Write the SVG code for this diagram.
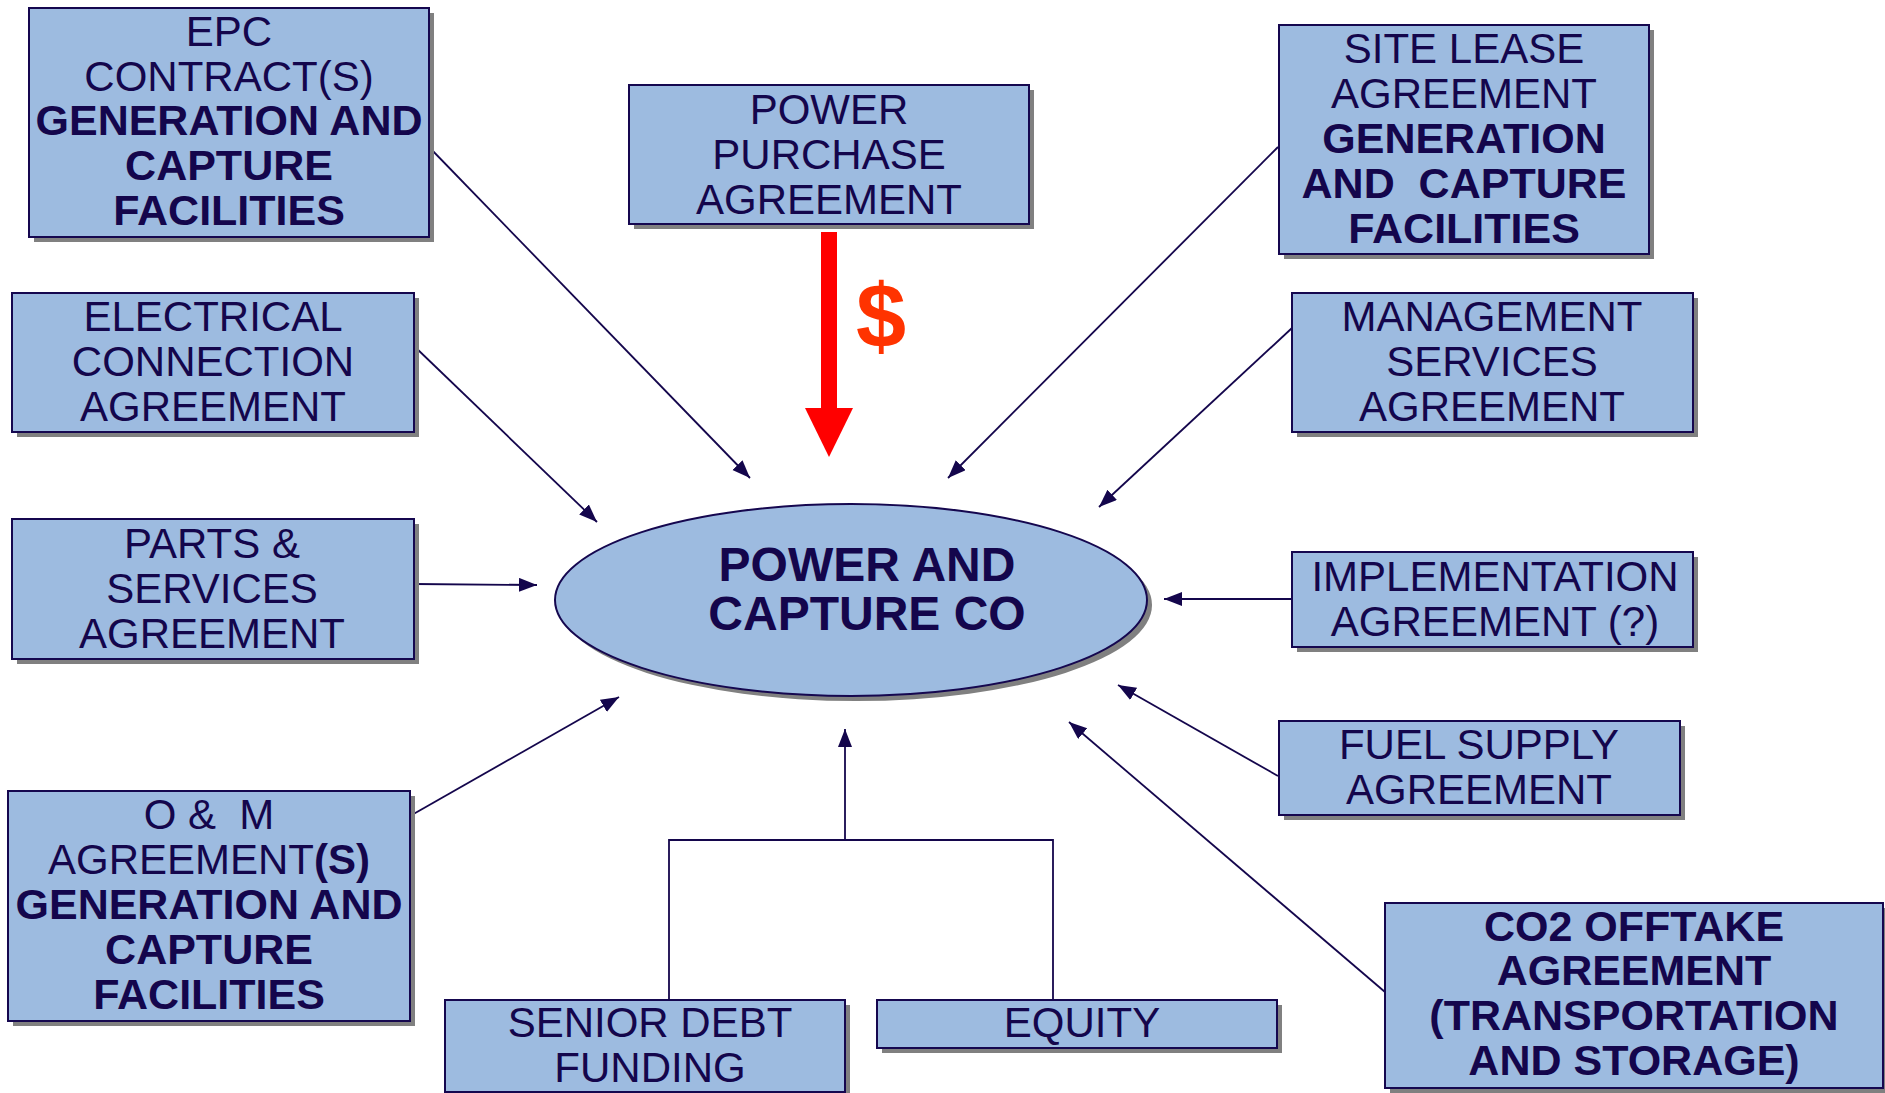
<svg xmlns="http://www.w3.org/2000/svg" width="1885" height="1093" viewBox="0 0 1885 1093">
<style>
.box{fill:#9DBBE0;stroke:#15074F;stroke-width:2}
.sh{fill:#808080}
.t{font-family:"Liberation Sans",Arial,sans-serif;font-size:42px;fill:#14064C;text-anchor:middle}
.b{font-weight:bold;font-size:43px}
.conn{stroke:#14064C;stroke-width:1.8;fill:none}
</style>
<defs>
<marker id="ah" markerUnits="userSpaceOnUse" markerWidth="19" markerHeight="15" refX="18" refY="7" orient="auto">
<path d="M0,0 L18,7 L0,14 Z" fill="#14064C"/>
</marker>
</defs>
<rect width="1885" height="1093" fill="#FFFFFF"/>

<g id="connectors">
<line class="conn" x1="429" y1="147" x2="750" y2="478" marker-end="url(#ah)"/>
<line class="conn" x1="414" y1="346" x2="597" y2="522" marker-end="url(#ah)"/>
<line class="conn" x1="414" y1="584" x2="537" y2="585" marker-end="url(#ah)"/>
<line class="conn" x1="410" y1="816" x2="619" y2="697" marker-end="url(#ah)"/>
<path class="conn" d="M669,1000 V840 H1053 V1000"/>
<line class="conn" x1="845" y1="840" x2="845" y2="729" marker-end="url(#ah)"/>
<line class="conn" x1="1385" y1="992" x2="1069" y2="722" marker-end="url(#ah)"/>
<line class="conn" x1="1278" y1="776" x2="1118" y2="685" marker-end="url(#ah)"/>
<line class="conn" x1="1292" y1="599" x2="1164" y2="599" marker-end="url(#ah)"/>
<line class="conn" x1="1292" y1="328" x2="1099" y2="507" marker-end="url(#ah)"/>
<line class="conn" x1="1278" y1="147" x2="948" y2="478" marker-end="url(#ah)"/>
<g id="ppa-flow">
<rect x="821" y="232" width="16" height="177" fill="#FF0000"/>
<polygon points="805,408 853,408 829,457" fill="#FF0000"/>
<text x="881" y="347" font-family="Liberation Sans, Arial, sans-serif" font-size="90" font-weight="bold" fill="#FF3300" text-anchor="middle">$</text>
</g>
</g>

<g id="epc">
<rect class="sh" x="34" y="13" width="400" height="229"/>
<rect class="box" x="29" y="8" width="400" height="229"/>
<text class="t" x="229" y="46">EPC</text>
<text class="t" x="229" y="91">CONTRACT(S)</text>
<text class="t b" x="229" y="135">GENERATION AND</text>
<text class="t b" x="229" y="180">CAPTURE</text>
<text class="t b" x="229" y="225">FACILITIES</text>
</g>

<g id="ppa">
<rect class="sh" x="634" y="90" width="400" height="139"/>
<rect class="box" x="629" y="85" width="400" height="139"/>
<text class="t" x="829" y="124">POWER</text>
<text class="t" x="829" y="169">PURCHASE</text>
<text class="t" x="829" y="214">AGREEMENT</text>
</g>

<g id="site-lease">
<rect class="sh" x="1284" y="30" width="370" height="229"/>
<rect class="box" x="1279" y="25" width="370" height="229"/>
<text class="t" x="1464" y="63">SITE LEASE</text>
<text class="t" x="1464" y="108">AGREEMENT</text>
<text class="t b" x="1464" y="153">GENERATION</text>
<text class="t b" x="1464" y="198">AND&#160; CAPTURE</text>
<text class="t b" x="1464" y="243">FACILITIES</text>
</g>

<g id="electrical">
<rect class="sh" x="17" y="298" width="402" height="139"/>
<rect class="box" x="12" y="293" width="402" height="139"/>
<text class="t" x="213" y="331">ELECTRICAL</text>
<text class="t" x="213" y="376">CONNECTION</text>
<text class="t" x="213" y="421">AGREEMENT</text>
</g>

<g id="management">
<rect class="sh" x="1297" y="298" width="401" height="139"/>
<rect class="box" x="1292" y="293" width="401" height="139"/>
<text class="t" x="1492" y="331">MANAGEMENT</text>
<text class="t" x="1492" y="376">SERVICES</text>
<text class="t" x="1492" y="421">AGREEMENT</text>
</g>

<g id="parts">
<rect class="sh" x="17" y="524" width="402" height="140"/>
<rect class="box" x="12" y="519" width="402" height="140"/>
<text class="t" x="212" y="558">PARTS &amp;</text>
<text class="t" x="212" y="603">SERVICES</text>
<text class="t" x="212" y="648">AGREEMENT</text>
</g>

<g id="implementation">
<rect class="sh" x="1297" y="557" width="401" height="95"/>
<rect class="box" x="1292" y="552" width="401" height="95"/>
<text class="t" x="1495" y="591">IMPLEMENTATION</text>
<text class="t" x="1495" y="636">AGREEMENT (?)</text>
</g>

<g id="fuel">
<rect class="sh" x="1284" y="726" width="401" height="94"/>
<rect class="box" x="1279" y="721" width="401" height="94"/>
<text class="t" x="1479" y="759">FUEL SUPPLY</text>
<text class="t" x="1479" y="804">AGREEMENT</text>
</g>

<g id="om">
<rect class="sh" x="13" y="796" width="402" height="230"/>
<rect class="box" x="8" y="791" width="402" height="230"/>
<text class="t" x="209" y="829">O &amp;&#160; M</text>
<text class="t" x="209" y="874">AGREEMENT<tspan font-weight="bold">(S)</tspan></text>
<text class="t b" x="209" y="919">GENERATION AND</text>
<text class="t b" x="209" y="964">CAPTURE</text>
<text class="t b" x="209" y="1009">FACILITIES</text>
</g>

<g id="senior-debt">
<rect class="sh" x="450" y="1005" width="400" height="92"/>
<rect class="box" x="445" y="1000" width="400" height="92"/>
<text class="t" x="650" y="1037">SENIOR DEBT</text>
<text class="t" x="650" y="1082">FUNDING</text>
</g>

<g id="equity">
<rect class="sh" x="882" y="1005" width="400" height="48"/>
<rect class="box" x="877" y="1000" width="400" height="48"/>
<text class="t" x="1082" y="1037">EQUITY</text>
</g>

<g id="co2">
<rect class="sh" x="1390" y="908" width="499" height="185"/>
<rect class="box" x="1385" y="903" width="498" height="185"/>
<text class="t b" x="1634" y="941">CO2 OFFTAKE</text>
<text class="t b" x="1634" y="985">AGREEMENT</text>
<text class="t b" x="1634" y="1030">(TRANSPORTATION</text>
<text class="t b" x="1634" y="1075">AND STORAGE)</text>
</g>

<g id="company">
<ellipse class="sh" cx="856" cy="605" rx="296" ry="96"/>
<ellipse class="box" cx="851" cy="600" rx="296" ry="96"/>
<text class="t b" x="867" y="581" style="font-size:48px">POWER AND</text>
<text class="t b" x="867" y="630" style="font-size:48px">CAPTURE CO</text>
</g>
</svg>
